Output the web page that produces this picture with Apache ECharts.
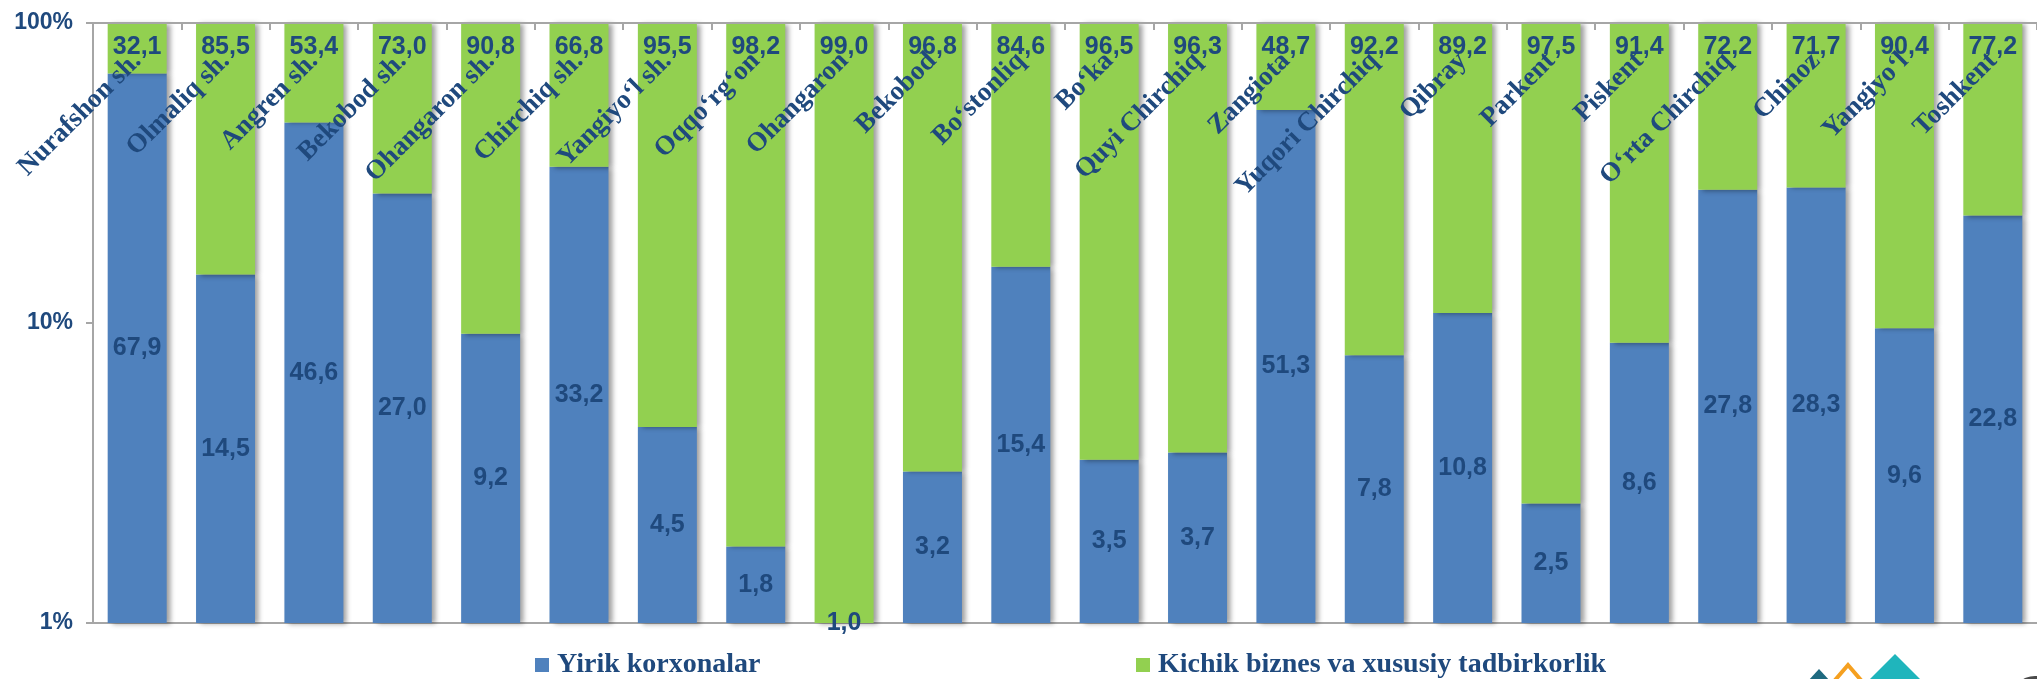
<!DOCTYPE html>
<html>
<head>
<meta charset="utf-8">
<script src="https://cdn.jsdelivr.net/npm/echarts@6/dist/echarts.min.js"></script>
<style>
html,body{margin:0;padding:0;background:#fff;}
#chart{width:2037px;height:679px;}
</style>
</head>
<body>
<div id="chart"></div>
<script>
const categories = ["Nurafshon sh.","Olmaliq sh.","Angren sh.","Bekobod sh.","Ohangaron sh.","Chirchiq sh.","Yangiyo‘l sh.","Oqqo‘rg‘on","Ohangaron","Bekobod","Bo‘stonliq","Bo‘ka","Quyi Chirchiq","Zangiota","Yuqori Chirchiq","Qibray","Parkent","Piskent","O‘rta Chirchiq","Chinoz","Yangiyo‘l","Toshkent"];
const yirik = [67.9,14.5,46.6,27.0,9.2,33.2,4.5,1.8,1.0,3.2,15.4,3.5,3.7,51.3,7.8,10.8,2.5,8.6,27.8,28.3,9.6,22.8];
const kichik = [32.1,85.5,53.4,73.0,90.8,66.8,95.5,98.2,99.0,96.8,84.6,96.5,96.3,48.7,92.2,89.2,97.5,91.4,72.2,71.7,90.4,77.2];
const seriesNames = ["Yirik korxonalar","Kichik biznes va xususiy tadbirkorlik"];
const yTicks = [1,10,100];

const textColor = '#1F497D';
const fmt = p => Number(p.value).toFixed(1).replace('.', ',');
const shadow = {shadowColor:'rgba(0,0,0,0.38)', shadowBlur:5, shadowOffsetX:4, shadowOffsetY:1};
const legendText = {fontFamily:'Liberation Serif', fontWeight:'bold', fontSize:28, color:textColor, padding:[0,0,0,3]};

const chart = echarts.init(document.getElementById('chart'));
chart.setOption({
  animation:false,
  grid:{left:93, top:23, width:1955, height:600, show:false},
  legend:[
    {data:[seriesNames[0]], left:535, top:651, padding:0, itemWidth:14, itemHeight:14, itemGap:0,
     icon:'rect', textStyle:legendText},
    {data:[seriesNames[1]], left:1136, top:651, padding:0, itemWidth:14, itemHeight:14, itemGap:0,
     icon:'rect', textStyle:legendText}
  ],
  xAxis:[
    {type:'category', data:categories, position:'top',
     axisLine:{show:true, lineStyle:{color:'#A6A6A6', width:2}},
     axisTick:{show:true, inside:true, length:7, lineStyle:{color:'#A6A6A6', width:2}},
     axisLabel:{inside:true, rotate:-45, margin:34, interval:0,
       fontFamily:'Liberation Serif', fontWeight:'bold', fontSize:27, color:textColor},
     z:10},
    {type:'category', data:categories, position:'bottom',
     axisLine:{show:true, lineStyle:{color:'#A6A6A6', width:2}},
     axisTick:{show:false}, axisLabel:{show:false}}
  ],
  yAxis:{type:'log', logBase:10, min:1, max:100,
    axisLine:{show:true, lineStyle:{color:'#A6A6A6', width:2}},
    axisTick:{show:true, length:7, lineStyle:{color:'#A6A6A6', width:2}},
    splitLine:{show:false},
    axisLabel:{formatter:'{value}%', margin:20, fontFamily:'Liberation Sans', fontWeight:'bold', fontSize:23, color:textColor}
  },
  series:[
    {name:seriesNames[0], type:'bar', stack:'s', data:yirik, barWidth:59, xAxisIndex:0,
     itemStyle:Object.assign({color:'#4F81BD'}, shadow),
     label:{show:true, position:'inside', formatter:fmt, fontFamily:'Liberation Sans', fontWeight:'bold', fontSize:25, color:textColor}},
    {name:seriesNames[1], type:'bar', stack:'s', data:kichik, barWidth:59, xAxisIndex:0,
     itemStyle:Object.assign({color:'#92D050'}, shadow),
     label:{show:true, position:'insideTop', distance:12, formatter:fmt, fontFamily:'Liberation Sans', fontWeight:'bold', fontSize:25, color:textColor}}
  ],
  graphic:[
    {type:'polygon', shape:{points:[[1819,669],[1808,681],[1830,681]]}, style:{fill:'#1E6A80'}},
    {type:'polygon', shape:{points:[[1848,665],[1836,679],[1848,692],[1860,679]]}, style:{fill:'none', stroke:'#F5A020', lineWidth:4}},
    {type:'polygon', shape:{points:[[1895,654],[1866,683],[1924,683]]}, style:{fill:'#1FB5BC'}},
    {type:'circle', shape:{cx:2035, cy:700, r:24}, style:{fill:'#4A4A4A'}}
  ]
});
</script>
</body>
</html>
